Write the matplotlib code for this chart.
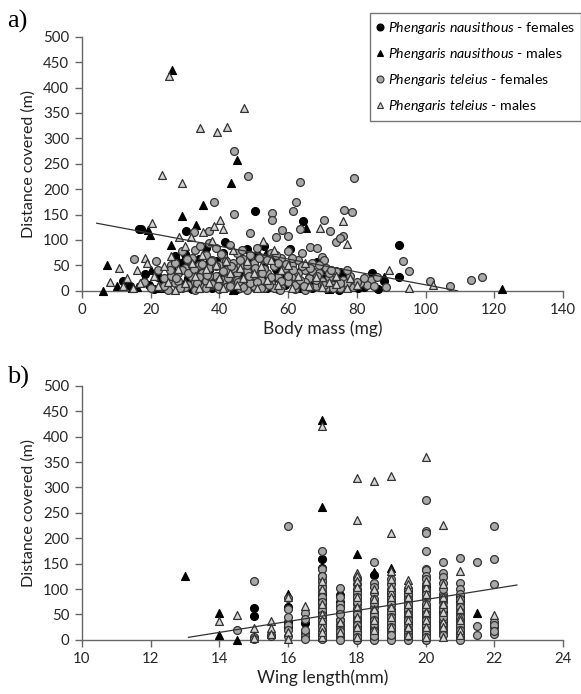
import matplotlib
matplotlib.use("Agg")
import matplotlib.pyplot as plt
from matplotlib.lines import Line2D

plt.rcParams['font.family'] = ['Lato', 'DejaVu Sans']
plt.rcParams['mathtext.fontset'] = 'custom'
plt.rcParams['mathtext.it'] = 'Lato:italic'
plt.rcParams['mathtext.rm'] = 'Lato'

# ---- panel a: body mass (mg) vs distance (m) ----
naus_f_mass = [16.5, 17.2, 30.3, 50.3, 41.5, 64.2, 53, 48.1, 92.3, 92.3, 84.4, 86.1, 75.2, 68.3, 58.7,
               60.5, 80.2, 57.2, 74.8, 12, 14, 18.5, 19.5, 21, 22, 24, 26, 27, 28, 29, 30, 31, 32, 33,
               34, 35, 36, 37, 38, 39, 40, 41, 42, 43, 44, 45, 46, 47, 48, 49, 50, 51, 52, 53, 54, 55,
               56, 57, 59, 61, 62, 64, 66, 67, 70, 72, 76, 78, 82, 88,
               27.5, 31.5, 34.5, 38.5, 41.5, 44.5, 46.5, 50.5, 53.5, 56.5, 59.5, 63, 65, 71, 74]
naus_f_dist = [122, 122, 118, 158, 97, 138, 88, 83, 90, 27, 35, 4, 37, 57, 47,
               83, 5, 4, 1, 20, 10, 33, 12, 4, 28, 15, 45, 68, 8, 55, 72, 25, 3, 48,
               62, 18, 85, 40, 6, 58, 30, 75, 12, 50, 22, 3, 65, 38, 10, 55, 28, 70, 15, 45, 5, 60,
               25, 35, 12, 30, 8, 42, 18, 5, 25, 10, 30, 15, 8, 20,
               35, 50, 38, 25, 45, 30, 55, 8, 25, 42, 28, 20, 10, 40, 22]

naus_m_mass = [26.2, 45.2, 43.3, 35.2, 29.1, 33.2, 19.3, 19.9, 7.2, 6.2, 10.3, 14.5, 65.2, 70, 122.3,
               88, 61.2, 16, 18, 20, 23, 25, 26, 28, 30, 32, 34, 36, 38, 40, 42, 44, 46, 48, 50, 52,
               54, 56, 58, 60, 63, 66, 69, 72, 75, 80,
               23, 26.5, 29.5, 33.5, 37.5, 44.5, 49.5, 53.5, 59, 67]
naus_m_dist = [435, 258, 212, 168, 147, 130, 120, 110, 50, 0, 10, 5, 123, 50, 3,
               28, 62, 8, 25, 40, 15, 30, 90, 60, 20, 38, 5, 52, 28, 15, 65, 2, 35, 20, 48, 8,
               30, 55, 12, 22, 5, 35, 15, 3, 20, 10,
               5, 35, 60, 45, 32, 25, 45, 75, 25, 45]

tel_f_mass = [44.3, 48.4, 79.3, 63.4, 38.3, 44.3, 62.2, 61.3, 55.4, 55.4, 76.2, 78.5, 70.4, 72.3, 74,
              76.1, 75, 58.3, 60.1, 56.4, 49, 63.5, 15.3, 21.5, 93.4, 95.3, 101.3, 107.2, 113.2, 116.4,
              88.4, 66.5, 68.3, 64, 69.8, 70.5, 84, 83, 81, 79, 32.5, 37,
              18, 20, 22, 23, 24, 25, 26, 27, 28, 29, 29, 30, 31, 31, 32, 33, 33, 34, 35, 35, 36, 36,
              37, 37, 38, 38, 39, 39, 40, 40, 41, 41, 42, 42, 43, 43, 44, 44, 45, 45, 46, 46, 47, 47,
              48, 48, 49, 49, 50, 50, 51, 51, 52, 53, 53, 54, 55, 55, 56, 57, 58, 58, 59, 60, 60, 61,
              62, 62, 63, 64, 65, 65, 66, 67, 68, 69, 70, 71, 71, 72, 73, 74, 75, 76, 77, 78, 80, 82,
              85, 86,
              24, 26, 27, 28, 29, 30, 31, 32, 33, 34, 35, 36, 37, 38, 39, 40, 41, 42, 43, 44, 45, 46,
              47, 48, 49, 50, 51, 52, 53, 54, 55, 56, 57, 58, 59, 60, 61, 62, 63, 64, 65, 66, 67, 68,
              69, 70, 72, 73, 75, 77,
              25.5, 27.5, 28.5, 30.5, 32.5, 33.5, 34.5, 36.5, 37.5, 39.5, 40.5, 42.5, 43.5, 45.5, 46.5,
              48.5, 50.5, 51.5, 52.5, 54.5, 56.5, 57.5, 59.5, 61.5, 63.5, 64.5, 66.5, 68.5, 70.5, 72.5]
tel_f_dist = [275, 225, 223, 215, 175, 152, 174, 158, 153, 140, 160, 155, 140, 118, 97,
              108, 103, 120, 108, 105, 113, 122, 63, 59, 59, 38, 20, 9, 21, 27,
              8, 87, 85, 75, 67, 60, 22, 12, 16, 8, 115, 118,
              18, 5, 40, 8, 25, 2, 50, 15, 35, 78, 5, 45, 60, 12, 28, 80, 2, 50, 35, 8, 70, 20,
              95, 45, 12, 60, 30, 85, 3, 50, 22, 68, 40, 8, 90, 28, 55, 12, 75, 35, 5, 48, 20, 62,
              38, 2, 70, 25, 10, 55, 40, 85, 22, 62, 5, 35, 75, 15, 48, 28, 65, 8, 38, 18, 78, 50,
              28, 3, 60, 15, 40, 2, 25, 55, 10, 35, 20, 45, 5, 28, 12, 38, 5, 22, 15, 30, 18, 25,
              10, 28,
              10, 30, 55, 20, 40, 8, 35, 65, 18, 28, 52, 5, 30, 14, 48, 20, 38, 58, 10, 45, 22, 60,
              8, 50, 15, 32, 18, 5, 42, 60, 28, 5, 55, 20, 45, 30, 65, 12, 35, 48, 18, 8, 38, 22,
              50, 12, 35, 5, 15, 40,
              40, 25, 5, 62, 42, 15, 88, 32, 58, 10, 72, 25, 48, 18, 80,
              30, 45, 65, 35, 12, 70, 2, 52, 40, 22, 10, 45, 30, 12, 40]

tel_m_mass = [25.4, 47.1, 42.3, 34.4, 39.4, 23.2, 29.2, 20.3, 40.3, 41.2, 35.2, 76.1, 69.4, 77.2, 89.5,
              95.2, 102.3, 10.7, 8.1, 18.5, 28.2, 31.7, 38.5, 52.7, 56, 74, 78,
              12, 13, 15, 16, 17, 19, 21, 22, 24, 25, 26, 27, 28, 30, 30, 32, 33, 34, 35, 36, 37, 38,
              39, 40, 41, 42, 43, 44, 45, 46, 47, 48, 50, 51, 52, 54, 55, 57, 58, 60, 61, 63, 65, 66,
              68, 70, 72, 74, 77, 80]
tel_m_dist = [422, 360, 323, 320, 313, 228, 212, 133, 140, 122, 115, 138, 124, 93, 40,
              5, 12, 45, 17, 65, 105, 105, 128, 98, 80, 13, 25,
              10, 25, 5, 40, 15, 55, 30, 10, 48, 18, 68, 2, 42, 88, 15, 55, 30, 5, 70, 42, 15, 98,
              50, 25, 5, 58, 35, 80, 12, 45, 25, 58, 35, 5, 48, 22, 60, 12, 40, 50, 5, 30, 55, 10,
              28, 8, 18, 30, 5, 12]

trend_a_x = [4.3, 109.3]
trend_a_y = [133, 0]

# ---- panel b: wing length (mm) vs distance (m) ----
naus_f_wing = [15, 15, 16, 16, 16, 16.5, 17, 17, 17, 17, 17, 17, 17, 17.5, 17.5, 17.5, 17.5,
               18, 18, 18, 18.5, 18.5, 18.5, 19, 19, 19.5, 19.5, 19.5, 20, 20, 20, 20.5, 20.5, 21, 21,
               17, 17, 17, 17, 17, 17.5, 17.5, 18, 18, 18.5, 18.5, 18.5, 19, 19, 19.5, 19.5, 19.5,
               20, 20, 20, 20, 20.5, 20.5, 21]
naus_f_d = [62, 47, 64, 36, 26, 33, 160, 141, 125, 105, 89, 72, 46, 89, 75, 52, 30,
            60, 40, 15, 128, 42, 20, 70, 25, 97, 60, 35, 100, 50, 20, 55, 30, 85, 40,
            115, 95, 80, 62, 55, 65, 40, 50, 28, 35, 25, 15, 75, 50, 90, 80, 45,
            105, 90, 60, 35, 50, 38, 75]

naus_m_wing = [13, 14, 14, 14.5, 16, 17, 17, 17, 17.5, 18, 18.5, 19, 19, 19.5, 20, 20.5, 21, 21.5]
naus_m_d = [125, 52, 10, 0, 91, 433, 262, 80, 45, 169, 134, 141, 10, 100, 75, 45, 30, 52]

tel_f_wing = [14.5, 15, 15, 15, 15.5, 15.5, 16, 16, 16, 16.5, 16.5, 16.5, 16.5, 16.5,
              17, 17, 17, 17, 17, 17, 17, 17, 17,
              17.5, 17.5, 17.5, 17.5, 17.5, 17.5, 17.5, 17.5,
              18, 18, 18, 18, 18, 18, 18, 18, 18, 18, 18, 18, 18, 18,
              18.5, 18.5, 18.5, 18.5, 18.5, 18.5, 18.5, 18.5, 18.5, 18.5,
              19, 19, 19, 19, 19, 19, 19, 19, 19, 19, 19, 19,
              19.5, 19.5, 19.5, 19.5, 19.5, 19.5, 19.5, 19.5, 19.5, 19.5,
              20, 20, 20, 20, 20, 20, 20, 20, 20, 20, 20, 20, 20, 20, 20, 20, 20, 20,
              20.5, 20.5, 20.5, 20.5, 20.5, 20.5, 20.5, 20.5, 20.5, 20.5, 20.5,
              21, 21, 21, 21, 21, 21, 21, 21, 21, 21, 21, 21,
              21.5, 21.5, 21.5, 22, 22, 22, 22, 22, 22,
              16, 16, 16, 16, 16.5,
              17, 17, 17, 17, 17, 17, 17, 17, 17, 17,
              17.5, 17.5, 17.5, 17.5,
              18, 18, 18, 18, 18, 18, 18, 18, 18, 18,
              18.5, 18.5, 18.5, 18.5, 18.5, 18.5, 18.5, 18.5,
              19, 19, 19, 19, 19, 19, 19, 19, 19,
              19.5, 19.5, 19.5, 19.5, 19.5, 19.5, 19.5, 19.5, 19.5,
              20, 20, 20, 20, 20, 20, 20, 20, 20, 20, 20, 20,
              20.5, 20.5, 20.5, 20.5, 20.5, 20.5, 20.5, 20.5,
              21, 21, 21, 21, 21, 21, 21, 21,
              22, 22]
tel_f_d = [20, 116, 5, 1, 10, 7, 224, 83, 8, 52, 42, 13, 7, 2,
           175, 115, 95, 65, 59, 33, 20, 10, 2,
           103, 70, 62, 40, 22, 12, 5, 0,
           120, 110, 100, 90, 80, 70, 55, 45, 35, 25, 18, 10, 3, 0,
           153, 111, 105, 65, 55, 35, 28, 12, 5, 0,
           120, 100, 90, 80, 60, 50, 40, 30, 20, 15, 5, 0,
           85, 75, 65, 55, 45, 30, 22, 12, 5, 0,
           276, 215, 210, 174, 140, 138, 125, 110, 95, 85, 65, 55, 45, 35, 28, 15, 8, 0,
           154, 131, 123, 112, 90, 75, 65, 50, 40, 25, 20,
           161, 112, 100, 70, 60, 50, 35, 25, 15, 8, 3, 0,
           154, 27, 10, 225, 159, 110, 35, 25, 12,
           60, 45, 30, 20, 20,
           140, 125, 105, 85, 75, 48, 40, 28, 15, 5,
           85, 50, 30, 18,
           95, 85, 75, 60, 50, 40, 30, 22, 14, 6,
           92, 80, 72, 48, 40, 32, 18, 8,
           110, 95, 85, 70, 55, 45, 35, 25, 10,
           100, 90, 80, 70, 60, 50, 40, 18, 8,
           120, 100, 90, 80, 70, 60, 50, 40, 30, 20, 12, 5,
           100, 85, 80, 60, 45, 30, 15, 10,
           90, 80, 65, 55, 45, 30, 20, 12,
           30, 18]

tel_m_wing = [14, 14.5, 15, 15, 15.5, 15.5, 15.5, 16, 16, 16, 16.5, 17, 17, 17, 17, 17, 17.5, 17.5,
              18, 18, 18, 18, 18, 18, 18.5, 18.5, 18.5, 19, 19, 19, 19, 19, 19.5, 19.5, 19.5, 19.5,
              19.5, 20, 20, 20, 20, 20, 20.5, 20.5, 20.5, 20.5, 20.5, 21, 21, 21, 21, 22,
              17, 17, 17, 17, 18, 18, 18, 18, 18, 18.5, 18.5, 18.5, 19, 19, 19, 19, 19,
              19.5, 19.5, 19.5, 19.5, 20, 20, 20, 20, 20.5, 20.5, 20.5, 21, 21, 21]
tel_m_d = [37, 49, 23, 3, 37, 24, 12, 85, 15, 1, 66, 421, 115, 50, 25, 5, 35, 15,
           318, 235, 132, 125, 65, 5, 313, 60, 20, 323, 211, 135, 95, 45, 118, 110, 70, 40,
           10, 360, 105, 70, 40, 5, 227, 110, 70, 35, 5, 136, 80, 45, 20, 49,
           100, 70, 40, 15, 115, 105, 85, 45, 25, 100, 80, 40, 120, 105, 85, 65, 25,
           100, 85, 55, 25, 115, 90, 55, 25, 85, 55, 25, 60, 40, 10]

trend_b_x = [13.1, 22.66]
trend_b_y = [5, 108]

labels = [r"$\it{Phengaris\ nausithous}$ - females",
          r"$\it{Phengaris\ nausithous}$ - males",
          r"$\it{Phengaris\ teleius}$ - females",
          r"$\it{Phengaris\ teleius}$ - males"]

styles = [dict(marker='o', facecolor='black', edgecolor='black'),
          dict(marker='^', facecolor='black', edgecolor='black'),
          dict(marker='o', facecolor='#a8a8a8', edgecolor='#333333'),
          dict(marker='^', facecolor='#d4d4d4', edgecolor='#333333')]

fig = plt.figure(figsize=(5.81, 6.94), dpi=100)
ax_a = fig.add_axes([0.141, 0.581, 0.828, 0.366])
ax_b = fig.add_axes([0.141, 0.078, 0.828, 0.366])

panels = [
    (ax_a, [(naus_f_mass, naus_f_dist), (naus_m_mass, naus_m_dist),
            (tel_f_mass, tel_f_dist), (tel_m_mass, tel_m_dist)],
     trend_a_x, trend_a_y, (0, 140), range(0, 141, 20), "Body mass (mg)"),
    (ax_b, [(naus_f_wing, naus_f_d), (naus_m_wing, naus_m_d),
            (tel_f_wing, tel_f_d), (tel_m_wing, tel_m_d)],
     trend_b_x, trend_b_y, (10, 24), range(10, 25, 2), "Wing length(mm)"),
]

for ax, series, tx, ty, xlim, xticks, xlabel in panels:
    for (xs, ys), st in zip(series, styles):
        ax.scatter(xs, ys, s=32, linewidths=0.9, clip_on=False, zorder=3, **st)
    ax.plot(tx, ty, color='#333333', lw=0.9, zorder=4)
    ax.set_xlim(*xlim)
    ax.set_ylim(0, 500)
    ax.set_xticks(list(xticks))
    ax.set_yticks(range(0, 501, 50))
    for s in ['top', 'right']:
        ax.spines[s].set_visible(False)
    for s in ['left', 'bottom']:
        ax.spines[s].set_color('#666666')
        ax.spines[s].set_linewidth(1.0)
    ax.tick_params(direction='out', length=5, width=1, color='#666666',
                   labelsize=10.8, labelcolor='#262626', pad=4)
    ax.set_xlabel(xlabel, fontsize=12.5, color='#222222', labelpad=2)
    ax.set_ylabel("Distance covered (m)", fontsize=11.5, color='#222222', labelpad=5)

fig.text(0.012, 0.96, "a)", family='Liberation Serif', fontsize=19)
fig.text(0.012, 0.448, "b)", family='Liberation Serif', fontsize=19)

handles = [Line2D([], [], linestyle='none', marker=st['marker'], markersize=5,
                  markerfacecolor=st['facecolor'], markeredgecolor=st['edgecolor'],
                  markeredgewidth=0.8) for st in styles]
leg = fig.legend(handles, labels, loc='upper left', bbox_to_anchor=(0.637, 0.981),
                 fontsize=10.2, frameon=True, fancybox=False, handlelength=0.5,
                 handletextpad=0.3, labelspacing=0.72, borderpad=0.45, borderaxespad=0)
leg.get_frame().set_edgecolor('#555555')
leg.get_frame().set_linewidth(1.0)

fig.savefig("out.png", dpi=100)
